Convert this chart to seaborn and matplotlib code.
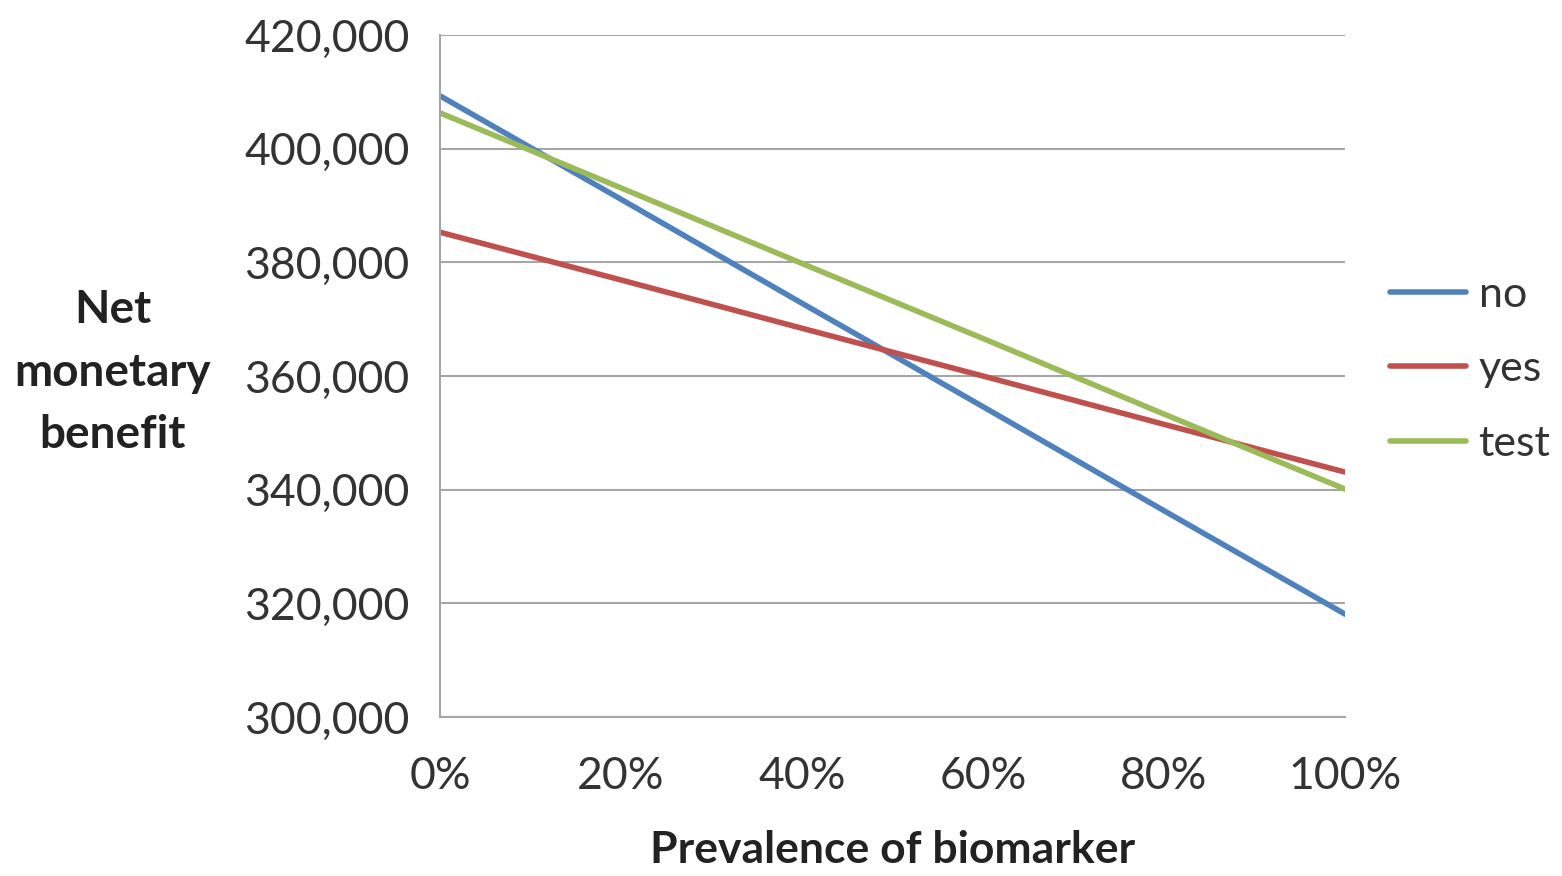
import pandas as pd
import seaborn as sns
import matplotlib.pyplot as plt
from matplotlib.ticker import FuncFormatter, PercentFormatter

# values
prevalence = [0, 20, 40, 60, 80, 100]
nmb_no = [409300, 391100, 372800, 354600, 336300, 318100]
nmb_yes = [385300, 376900, 368400, 360000, 351500, 343100]
nmb_test = [406300, 393100, 379800, 366600, 353300, 340100]
strategies = ['no', 'yes', 'test']
colors = ['#4F81BD', '#C0504D', '#9BBB59']

df = pd.concat([
    pd.DataFrame({'prevalence': prevalence, 'nmb': vals, 'strategy': name})
    for name, vals in zip(strategies, [nmb_no, nmb_yes, nmb_test])
])

sns.set_style('white')
plt.rcParams['font.family'] = ['Lato', 'DejaVu Sans']

fig = plt.figure(figsize=(15.62, 8.76), dpi=100)
ax = fig.add_axes([0.2817, 0.1815, 0.5794, 0.7785])

sns.lineplot(data=df, x='prevalence', y='nmb', hue='strategy',
             palette=colors, linewidth=4, ax=ax)

ax.set_xlim(0, 100)
ax.set_ylim(300000, 420000)
ax.set_xticks(prevalence)
ax.set_yticks(range(300000, 420001, 20000))
ax.xaxis.set_major_formatter(PercentFormatter(decimals=0))
ax.yaxis.set_major_formatter(FuncFormatter(lambda v, p: f'{int(v):,}'))
ax.tick_params(axis='both', labelsize=32, colors='#404040', labelcolor='#333333',
               length=8, width=1.5, direction='out')
ax.tick_params(axis='y', pad=14)
ax.tick_params(axis='x', pad=20)
ax.grid(axis='y', color='#a6a6a6', linewidth=1.5)
ax.set_axisbelow(True)

for s in ['top', 'right']:
    ax.spines[s].set_visible(False)
for s in ['left', 'bottom']:
    ax.spines[s].set_color('#a6a6a6')
    ax.spines[s].set_linewidth(1.5)

ax.set_xlabel('Prevalence of biomarker', fontsize=32, fontweight='bold',
              color='#222222', labelpad=24)
ax.set_ylabel('Net\nmonetary\nbenefit', fontsize=33, fontweight='bold',
              color='#222222', rotation=0, ha='center', va='center',
              linespacing=1.6)
ax.yaxis.set_label_coords(-0.362, 0.505)

leg = ax.legend(loc='center left', bbox_to_anchor=(1.05, 0.51), frameon=False,
                fontsize=31, handlelength=1.75, handletextpad=0.3,
                labelspacing=0.85, borderaxespad=0, borderpad=0)
for t in leg.get_texts():
    t.set_color('#333333')

fig.savefig('out.png', dpi=100, facecolor='white')
